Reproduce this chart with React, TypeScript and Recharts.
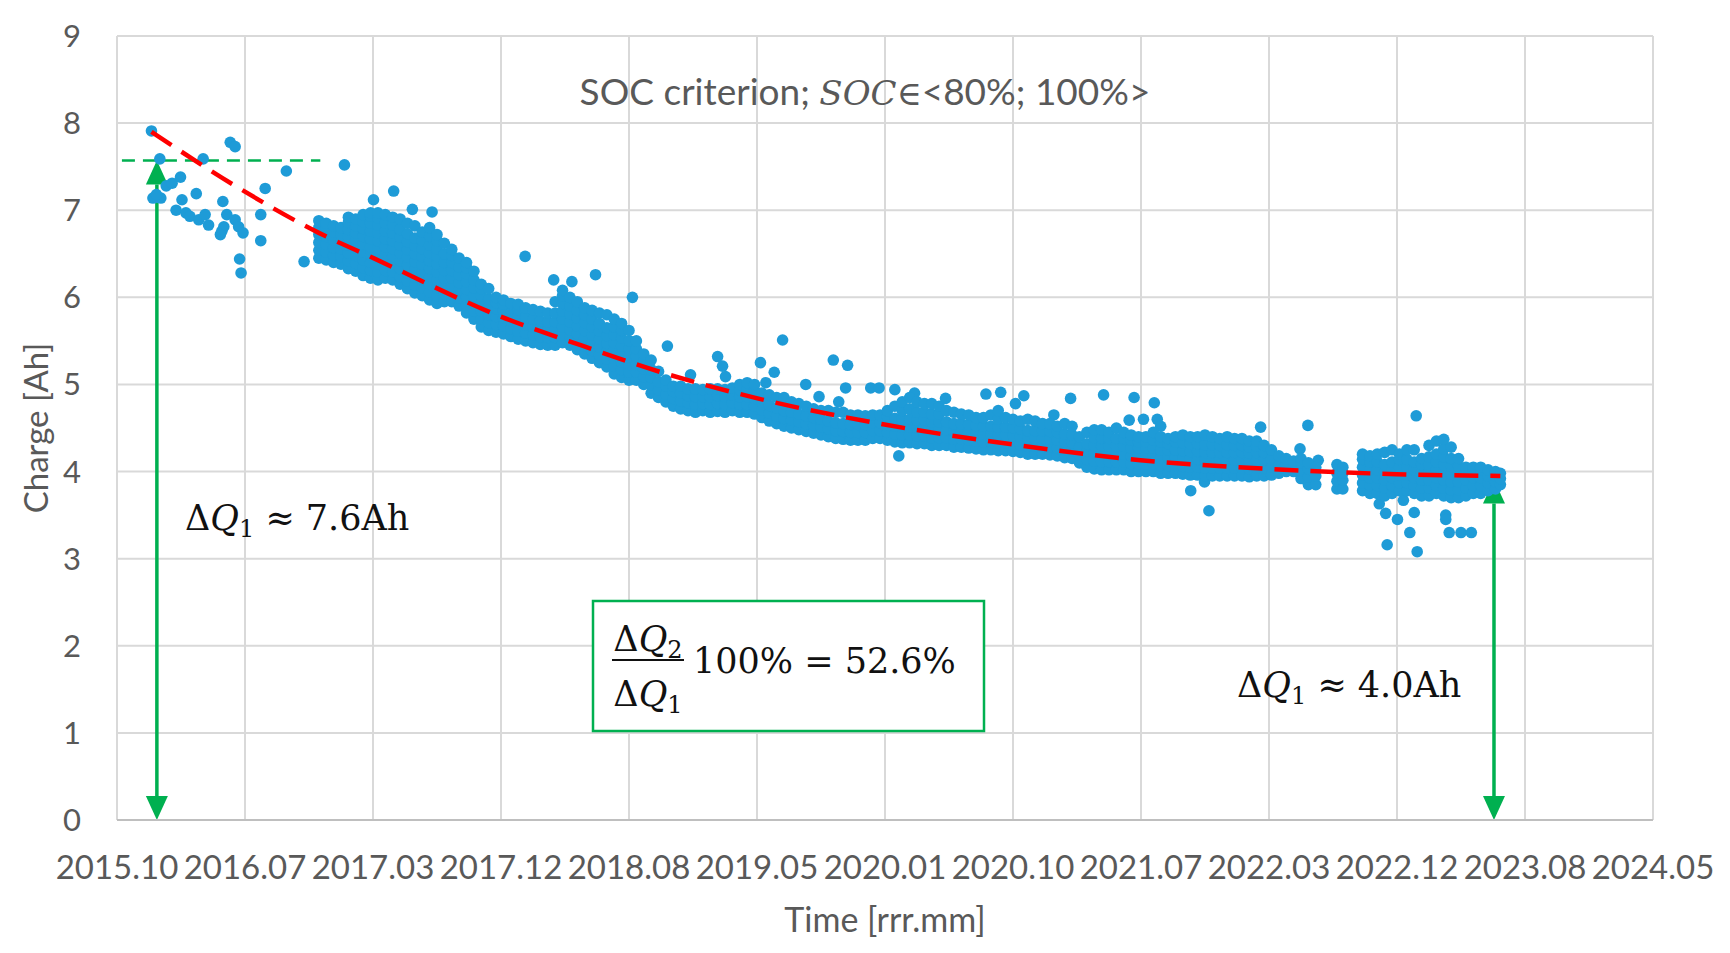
import {
  ComposedChart,
  Scatter,
  Line,
  XAxis,
  YAxis,
  CartesianGrid,
  ReferenceLine,
} from "recharts";

// x values are days counted from the first axis tick (2015.10), y is charge in Ah
const timeTicks = [
  "2015.10", "2016.07", "2017.03", "2017.12", "2018.08", "2019.05", "2020.01",
  "2020.10", "2021.07", "2022.03", "2022.12", "2023.08", "2024.05",
];
const DAYS_PER_TICK = 260;
const chargeTicks = [0, 1, 2, 3, 4, 5, 6, 7, 8, 9];

// single measurements (early sparse period and outliers)
const sparsePoints = [
  [70, 7.91], [87, 7.59], [175, 7.59], [73, 7.14], [89, 7.14], [80, 7.18], [100, 7.28],
  [112, 7.31], [129, 7.38], [132, 7.12], [120, 7.0], [140, 6.97], [161, 7.19], [148, 6.93],
  [166, 6.89], [179, 6.95], [186, 6.83], [215, 7.1], [223, 6.95], [213, 6.76], [217, 6.81],
  [210, 6.72], [240, 6.89], [247, 6.81], [256, 6.74], [230, 7.78], [240, 7.73], [249, 6.44],
  [252, 6.28], [292, 6.95], [292, 6.65], [301, 7.25], [344, 7.45], [380, 6.41], [462, 7.52],
  [521, 7.12], [562, 7.22], [600, 7.01], [640, 6.98], [829, 6.47], [887, 6.2], [924, 6.18],
  [972, 6.26], [1047, 6.0], [1050, 5.49], [1118, 5.44], [1165, 5.11], [1220, 5.32],
  [1230, 5.21], [1236, 5.09], [1307, 5.25], [1318, 5.02], [1335, 5.14], [1352, 5.51],
  [1399, 5.0], [1426, 4.86], [1455, 5.28], [1466, 4.8], [1480, 4.96], [1484, 5.22],
  [1531, 4.96], [1548, 4.96], [1580, 4.94], [1588, 4.18], [1620, 4.9], [1683, 4.84],
  [1765, 4.89], [1795, 4.91], [1825, 4.78], [1842, 4.87], [1903, 4.65], [1937, 4.84],
  [2004, 4.88], [2056, 4.59], [2066, 4.85], [2085, 4.6], [2107, 4.79], [2113, 4.6],
  [2120, 4.52], [2181, 3.78], [2209, 3.88], [2218, 3.55], [2323, 4.51], [2403, 4.26],
  [2419, 4.53], [2440, 4.13], [2564, 3.63], [2577, 3.52], [2580, 3.16], [2601, 3.45],
  [2613, 3.67], [2626, 3.3], [2635, 3.53], [2639, 4.64], [2641, 3.08], [2699, 3.5],
  [2699, 3.45], [2706, 3.3], [2730, 3.3], [2751, 3.3],
];

// dense period: [day, charge readings on that day...]
const denseColumns = [
  [410, 6.45, 6.54, 6.63, 6.72, 6.8, 6.88],
  [425, 6.43, 6.52, 6.61, 6.7, 6.78, 6.85],
  [440, 6.4, 6.48, 6.57, 6.66, 6.75, 6.82],
  [455, 6.38, 6.47, 6.56, 6.64, 6.72, 6.8],
  [470, 6.33, 6.42, 6.51, 6.6, 6.69, 6.78, 6.86, 6.92],
  [485, 6.3, 6.39, 6.48, 6.57, 6.66, 6.74, 6.82, 6.9],
  [500, 6.25, 6.34, 6.43, 6.52, 6.61, 6.7, 6.79, 6.87, 6.95],
  [515, 6.22, 6.31, 6.4, 6.49, 6.58, 6.67, 6.76, 6.85, 6.93, 6.97],
  [530, 6.2, 6.29, 6.38, 6.47, 6.56, 6.65, 6.74, 6.83, 6.91, 6.97],
  [545, 6.22, 6.31, 6.4, 6.49, 6.58, 6.67, 6.76, 6.85, 6.95],
  [560, 6.2, 6.29, 6.38, 6.47, 6.56, 6.65, 6.74, 6.83, 6.92],
  [575, 6.15, 6.24, 6.33, 6.42, 6.51, 6.6, 6.69, 6.78, 6.9],
  [590, 6.1, 6.19, 6.28, 6.37, 6.46, 6.55, 6.64, 6.73, 6.85],
  [605, 6.05, 6.14, 6.23, 6.32, 6.41, 6.5, 6.59, 6.68, 6.82],
  [620, 6.02, 6.11, 6.2, 6.29, 6.38, 6.47, 6.56, 6.65, 6.75],
  [635, 5.97, 6.06, 6.15, 6.24, 6.33, 6.42, 6.51, 6.6, 6.7, 6.8],
  [650, 5.93, 6.02, 6.11, 6.2, 6.29, 6.38, 6.47, 6.56, 6.65, 6.72],
  [665, 5.95, 6.04, 6.13, 6.22, 6.31, 6.4, 6.5, 6.62],
  [680, 5.95, 6.04, 6.13, 6.22, 6.31, 6.4, 6.48, 6.55],
  [695, 5.9, 5.99, 6.08, 6.17, 6.26, 6.35, 6.45],
  [710, 5.82, 5.91, 6.0, 6.09, 6.18, 6.27, 6.34, 6.4],
  [725, 5.75, 5.84, 5.93, 6.02, 6.11, 6.2, 6.3],
  [740, 5.66, 5.75, 5.84, 5.93, 6.02, 6.1, 6.15],
  [755, 5.62, 5.71, 5.8, 5.89, 5.98, 6.1],
  [770, 5.6, 5.69, 5.78, 5.87, 5.94, 6.0],
  [785, 5.58, 5.67, 5.76, 5.85, 5.92, 5.97],
  [800, 5.55, 5.64, 5.73, 5.82, 5.93],
  [815, 5.52, 5.61, 5.7, 5.79, 5.86, 5.92],
  [830, 5.5, 5.59, 5.68, 5.77, 5.88],
  [845, 5.48, 5.57, 5.66, 5.75, 5.86],
  [860, 5.46, 5.55, 5.64, 5.73, 5.84],
  [875, 5.45, 5.54, 5.63, 5.72, 5.82],
  [890, 5.45, 5.54, 5.63, 5.72, 5.82, 5.95],
  [905, 5.48, 5.57, 5.66, 5.75, 5.84, 5.93, 6.02, 6.08],
  [920, 5.45, 5.54, 5.63, 5.72, 5.81, 5.9, 6.0],
  [935, 5.4, 5.49, 5.58, 5.67, 5.76, 5.85, 5.95],
  [950, 5.35, 5.44, 5.53, 5.62, 5.71, 5.8, 5.88],
  [965, 5.3, 5.39, 5.48, 5.57, 5.66, 5.75, 5.85],
  [980, 5.25, 5.34, 5.43, 5.52, 5.61, 5.7, 5.82],
  [995, 5.2, 5.29, 5.38, 5.47, 5.56, 5.65, 5.8],
  [1010, 5.12, 5.21, 5.3, 5.39, 5.48, 5.57, 5.66, 5.75],
  [1025, 5.08, 5.17, 5.26, 5.35, 5.44, 5.53, 5.62, 5.7],
  [1040, 5.05, 5.14, 5.23, 5.32, 5.41, 5.5, 5.62],
  [1055, 5.05, 5.14, 5.23, 5.32, 5.41, 5.5],
  [1070, 5.0, 5.09, 5.18, 5.27, 5.35],
  [1085, 4.9, 4.99, 5.08, 5.17, 5.28],
  [1100, 4.85, 4.94, 5.03, 5.15],
  [1115, 4.8, 4.89, 4.98, 5.05],
  [1130, 4.75, 4.84, 4.92, 4.98],
  [1145, 4.72, 4.81, 4.9, 4.98],
  [1160, 4.7, 4.79, 4.87, 4.95],
  [1175, 4.68, 4.77, 4.86, 4.95],
  [1190, 4.7, 4.78, 4.86, 4.94],
  [1205, 4.68, 4.77, 4.86, 4.95],
  [1220, 4.69, 4.78, 4.87, 4.95],
  [1235, 4.68, 4.77, 4.86, 4.94],
  [1250, 4.7, 4.79, 4.88, 4.96],
  [1265, 4.68, 4.77, 4.86, 4.94, 5.0],
  [1280, 4.68, 4.77, 4.86, 4.95, 5.02],
  [1295, 4.66, 4.75, 4.84, 4.93, 5.0],
  [1310, 4.62, 4.71, 4.8, 4.9],
  [1325, 4.58, 4.67, 4.76, 4.88],
  [1340, 4.55, 4.64, 4.73, 4.85],
  [1355, 4.52, 4.61, 4.7, 4.78, 4.85],
  [1370, 4.5, 4.59, 4.68, 4.8],
  [1385, 4.48, 4.57, 4.66, 4.78],
  [1400, 4.46, 4.55, 4.64, 4.75],
  [1415, 4.44, 4.53, 4.62, 4.72],
  [1430, 4.42, 4.51, 4.6, 4.7],
  [1445, 4.4, 4.49, 4.58, 4.7],
  [1460, 4.38, 4.47, 4.56, 4.68],
  [1475, 4.37, 4.46, 4.55, 4.68],
  [1490, 4.36, 4.45, 4.54, 4.65],
  [1505, 4.36, 4.45, 4.54, 4.65],
  [1520, 4.36, 4.45, 4.54, 4.64],
  [1535, 4.38, 4.47, 4.56, 4.65],
  [1550, 4.38, 4.47, 4.56, 4.65],
  [1565, 4.36, 4.45, 4.54, 4.63, 4.7],
  [1580, 4.34, 4.43, 4.52, 4.61, 4.75],
  [1595, 4.33, 4.42, 4.51, 4.6, 4.7, 4.8],
  [1610, 4.33, 4.42, 4.51, 4.6, 4.72, 4.85],
  [1625, 4.32, 4.41, 4.5, 4.59, 4.68, 4.8],
  [1640, 4.32, 4.41, 4.5, 4.59, 4.68, 4.78],
  [1655, 4.3, 4.39, 4.48, 4.57, 4.66, 4.78],
  [1670, 4.3, 4.39, 4.48, 4.57, 4.66, 4.75],
  [1685, 4.3, 4.39, 4.48, 4.57, 4.7],
  [1700, 4.28, 4.37, 4.46, 4.55, 4.68],
  [1715, 4.28, 4.37, 4.46, 4.55, 4.66],
  [1730, 4.27, 4.36, 4.45, 4.54, 4.65],
  [1745, 4.26, 4.35, 4.44, 4.53, 4.62],
  [1760, 4.25, 4.34, 4.43, 4.52, 4.62],
  [1775, 4.25, 4.34, 4.43, 4.52, 4.65],
  [1790, 4.24, 4.33, 4.42, 4.51, 4.6, 4.7],
  [1805, 4.24, 4.33, 4.42, 4.51, 4.62],
  [1820, 4.23, 4.32, 4.41, 4.5, 4.6],
  [1835, 4.22, 4.31, 4.4, 4.49, 4.58],
  [1850, 4.2, 4.29, 4.38, 4.47, 4.6],
  [1865, 4.2, 4.29, 4.38, 4.47, 4.58],
  [1880, 4.2, 4.29, 4.38, 4.47, 4.55],
  [1895, 4.19, 4.28, 4.37, 4.46, 4.55],
  [1910, 4.18, 4.27, 4.36, 4.45, 4.52],
  [1925, 4.16, 4.25, 4.34, 4.43, 4.55],
  [1940, 4.15, 4.24, 4.33, 4.42, 4.52],
  [1955, 4.1, 4.19, 4.28, 4.4],
  [1970, 4.05, 4.14, 4.23, 4.32, 4.45],
  [1985, 4.03, 4.12, 4.21, 4.3, 4.39, 4.48],
  [2000, 4.02, 4.11, 4.2, 4.29, 4.38, 4.48],
  [2015, 4.02, 4.11, 4.2, 4.29, 4.38, 4.45],
  [2030, 4.02, 4.11, 4.2, 4.29, 4.38, 4.5],
  [2045, 4.02, 4.11, 4.2, 4.29, 4.38, 4.45],
  [2060, 4.0, 4.09, 4.18, 4.27, 4.36, 4.42],
  [2075, 4.0, 4.09, 4.18, 4.27, 4.34, 4.4],
  [2090, 4.0, 4.09, 4.18, 4.27, 4.34, 4.4],
  [2105, 4.0, 4.09, 4.18, 4.27, 4.36, 4.45],
  [2120, 3.98, 4.07, 4.16, 4.25, 4.34, 4.4],
  [2135, 3.98, 4.07, 4.16, 4.25, 4.32, 4.38],
  [2150, 3.98, 4.07, 4.16, 4.25, 4.34, 4.4],
  [2165, 3.97, 4.06, 4.15, 4.24, 4.33, 4.42],
  [2180, 3.96, 4.05, 4.14, 4.23, 4.32, 4.4],
  [2195, 3.96, 4.05, 4.14, 4.23, 4.32, 4.4],
  [2210, 3.95, 4.04, 4.13, 4.22, 4.31, 4.42],
  [2225, 3.95, 4.04, 4.13, 4.22, 4.31, 4.4],
  [2240, 3.95, 4.04, 4.13, 4.22, 4.3, 4.38],
  [2255, 3.95, 4.04, 4.13, 4.22, 4.31, 4.4],
  [2270, 3.95, 4.04, 4.13, 4.22, 4.3, 4.38],
  [2285, 3.95, 4.04, 4.13, 4.22, 4.3, 4.38],
  [2300, 3.94, 4.03, 4.12, 4.21, 4.28, 4.35],
  [2315, 3.95, 4.04, 4.13, 4.22, 4.29, 4.35],
  [2330, 3.95, 4.04, 4.13, 4.22, 4.3],
  [2345, 3.96, 4.05, 4.14, 4.25],
  [2360, 3.98, 4.07, 4.18],
  [2375, 4.0, 4.08, 4.15],
  [2390, 4.0, 4.06, 4.12],
  [2405, 3.92, 4.01, 4.1, 4.15],
  [2420, 3.85, 3.94, 4.03, 4.1],
  [2435, 3.85, 3.95, 4.05],
  [2478, 3.8, 3.89, 3.98, 4.08],
  [2490, 3.8, 3.9, 3.98, 4.05],
  [2530, 3.78, 3.87, 3.96, 4.05, 4.14, 4.2],
  [2545, 3.75, 3.84, 3.93, 4.02, 4.11, 4.18],
  [2560, 3.75, 3.84, 3.93, 4.02, 4.11, 4.2],
  [2575, 3.72, 3.81, 3.9, 3.99, 4.08, 4.22],
  [2590, 3.75, 3.84, 3.93, 4.02, 4.11, 4.25],
  [2605, 3.78, 3.87, 3.96, 4.05, 4.14, 4.2],
  [2620, 3.78, 3.87, 3.96, 4.05, 4.14, 4.25],
  [2635, 3.75, 3.84, 3.93, 4.02, 4.11, 4.25],
  [2650, 3.72, 3.81, 3.9, 3.99, 4.08, 4.15],
  [2665, 3.72, 3.81, 3.9, 3.99, 4.08, 4.17, 4.3],
  [2680, 3.75, 3.84, 3.93, 4.02, 4.11, 4.2, 4.35],
  [2695, 3.72, 3.81, 3.9, 3.99, 4.08, 4.17, 4.26, 4.37],
  [2710, 3.7, 3.79, 3.88, 3.97, 4.06, 4.15, 4.28],
  [2725, 3.7, 3.79, 3.88, 3.97, 4.06, 4.15],
  [2740, 3.72, 3.81, 3.9, 3.99, 4.05],
  [2755, 3.75, 3.84, 3.93, 4.02, 4.05],
  [2770, 3.75, 3.84, 3.93, 4.02, 4.05],
  [2785, 3.78, 3.87, 3.95, 4.02],
  [2800, 3.8, 3.88, 3.95, 4.0],
  [2810, 3.85, 3.92, 3.98],
];

// trend curve
const trendPoints = [
  [70, 7.9], [240, 7.28], [410, 6.74], [521, 6.45], [779, 5.78], [942, 5.45],
  [1111, 5.13], [1301, 4.84], [1559, 4.54], [1821, 4.31], [2079, 4.13],
  [2340, 4.03], [2599, 3.97], [2810, 3.95],
];

const startCharge = 7.57; // ΔQ1 level
const endCharge = 3.91;
const startDay = 81;
const endDay = 2797;
const dashedLevelEnd = 413;

const BLUE = "#1E9BD7";
const RED = "#FF0000";
const GREEN = "#00B050";
const GRAY_TEXT = "#595959";
const GRID = "#D9D9D9";

const measurements = [
  ...sparsePoints.map(([day, charge]) => ({ day, charge })),
  ...denseColumns.flatMap(([day, ...values]) => values.map((charge) => ({ day, charge }))),
];
const trendData = trendPoints.map(([day, charge]) => ({ day, charge }));
const dayTicks = timeTicks.map((_, i) => i * DAYS_PER_TICK);

const Dot = (props: any) => <circle cx={props.cx} cy={props.cy} r={5.8} fill={BLUE} />;

// vertical double headed arrow
const DoubleArrow = (props: any) => {
  const { x1, y1, y2 } = props;
  const top = Math.min(y1, y2);
  const bottom = Math.max(y1, y2);
  const w = 11;
  const h = 24;
  return (
    <g>
      <line x1={x1} x2={x1} y1={top + h} y2={bottom - h} stroke={GREEN} strokeWidth={3.5} />
      <polygon points={`${x1},${top} ${x1 - w},${top + h} ${x1 + w},${top + h}`} fill={GREEN} />
      <polygon points={`${x1},${bottom} ${x1 - w},${bottom - h} ${x1 + w},${bottom - h}`} fill={GREEN} />
    </g>
  );
};

const mathFont = "'DejaVu Serif', serif";

const DeltaQ = ({ x, y, sub, rest, anchor }: { x: number; y: number; sub: string; rest?: string; anchor?: string }) => (
  <text x={x} y={y} fontFamily={mathFont} fontSize={35} fill="#111" textAnchor={anchor ?? "start"}>
    Δ<tspan fontStyle="italic">Q</tspan>
    <tspan fontSize={24} dy={7}>{sub}</tspan>
    {rest ? <tspan dy={-7}>{rest}</tspan> : null}
  </text>
);

export default function App() {
  return (
    <div style={{ position: "absolute", left: 0, top: 0, width: 1730, height: 953, background: "#fff" }}>
      <ComposedChart
        width={1730}
        height={953}
        margin={{ top: 36, right: 77, bottom: 0, left: 0 }}
      >
        <CartesianGrid stroke={GRID} strokeWidth={2} />
        <XAxis
          type="number"
          dataKey="day"
          domain={[0, DAYS_PER_TICK * (timeTicks.length - 1)]}
          ticks={dayTicks}
          tickFormatter={(v: number) => timeTicks[Math.round(v / DAYS_PER_TICK)]}
          interval={0}
          height={133}
          tickLine={false}
          tickSize={0}
          tickMargin={36}
          axisLine={{ stroke: "#BFBFBF", strokeWidth: 2 }}
          tick={{ fontSize: 33, fill: GRAY_TEXT, fontFamily: "Lato" }}
        />
        <YAxis
          type="number"
          dataKey="charge"
          domain={[0, 9]}
          ticks={chargeTicks}
          interval={0}
          width={117}
          axisLine={false}
          tickLine={false}
          tickSize={0}
          tickMargin={36}
          tick={{ fontSize: 31, fill: GRAY_TEXT, fontFamily: "Lato" }}
        />
        <Scatter data={measurements} shape={Dot} isAnimationActive={false} />
        <Line
          data={trendData}
          dataKey="charge"
          type="monotone"
          stroke={RED}
          strokeWidth={4.5}
          strokeDasharray="24 12"
          dot={false}
          activeDot={false}
          isAnimationActive={false}
          zIndex={700}
        />
        <ReferenceLine
          segment={[{ x: 10, y: startCharge }, { x: dashedLevelEnd, y: startCharge }]}
          stroke={GREEN}
          strokeWidth={2.5}
          strokeDasharray="13 8"
        />
        <ReferenceLine
          segment={[{ x: startDay, y: 0 }, { x: startDay, y: startCharge }]}
          shape={DoubleArrow}
        />
        <ReferenceLine
          segment={[{ x: endDay, y: 0 }, { x: endDay, y: endCharge }]}
          shape={DoubleArrow}
        />
      </ComposedChart>

      <svg
        width={1730}
        height={953}
        style={{ position: "absolute", left: 0, top: 0, pointerEvents: "none" }}
      >
        <text x={865} y={105} textAnchor="middle" fontFamily="Lato" fontSize={37} fill={GRAY_TEXT}>
          SOC criterion;{" "}
          <tspan fontFamily={mathFont} fontStyle="italic" fontSize={34}>SOC</tspan>
          <tspan fontFamily={mathFont} fontSize={34}>∈</tspan>&lt;80%; 100%&gt;
        </text>

        <text
          x={48}
          y={428}
          transform="rotate(-90 48 428)"
          textAnchor="middle"
          fontFamily="Lato"
          fontSize={33}
          fill={GRAY_TEXT}
        >
          Charge [Ah]
        </text>
        <text x={885} y={932} textAnchor="middle" fontFamily="Lato" fontSize={34} fill={GRAY_TEXT}>
          Time [rrr.mm]
        </text>

        <DeltaQ x={185} y={530} sub="1" rest=" ≈ 7.6Ah" />
        <DeltaQ x={1237} y={697} sub="1" rest=" ≈ 4.0Ah" />

        <rect x={593} y={601} width={391} height={130} fill="#fff" stroke={GREEN} strokeWidth={2.5} />
        <DeltaQ x={648} y={651} sub="2" anchor="middle" />
        <DeltaQ x={648} y={706} sub="1" anchor="middle" />
        <line x1={612} x2={684} y1={660} y2={660} stroke="#111" strokeWidth={2} />
        <text x={693} y={673} fontFamily={mathFont} fontSize={35} fill="#111">
          100% = 52.6%
        </text>
      </svg>
    </div>
  );
}
